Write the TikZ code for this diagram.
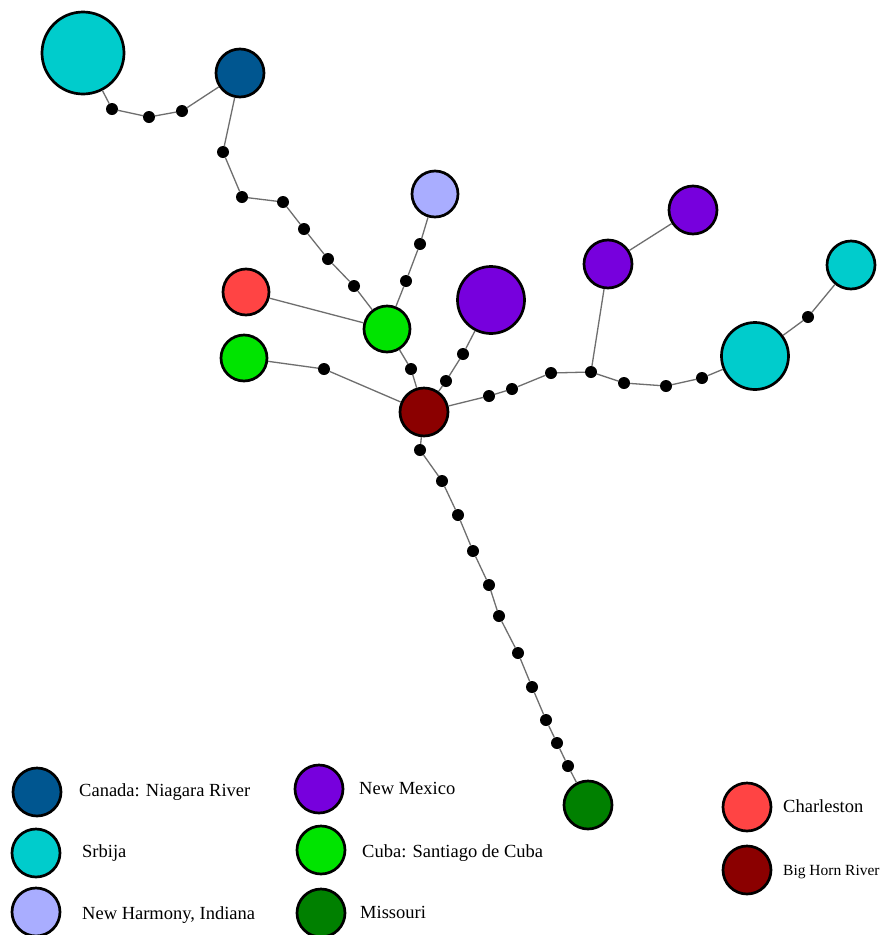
\documentclass[tikz,border=0pt]{standalone}
\usepackage{fontspec}
\setmainfont{Liberation Serif}
\definecolor{cCyan}{RGB}{0,204,204}
\definecolor{cBlue}{RGB}{0,86,144}
\definecolor{cLav}{RGB}{169,173,255}
\definecolor{cRed}{RGB}{255,68,68}
\definecolor{cGreen}{RGB}{0,228,0}
\definecolor{cDRed}{RGB}{139,0,0}
\definecolor{cPurple}{RGB}{119,0,221}
\definecolor{cDGreen}{RGB}{0,128,0}
\definecolor{cEdge}{RGB}{110,110,110}
\tikzset{
  hap/.style={circle, draw=black, line width=2.7pt, inner sep=0pt, minimum size=#1},
  hap/.default=46pt,
  dotn/.style={circle, fill=black, inner sep=0pt, minimum size=12pt},
  edge/.style={draw=cEdge, line width=1.3pt},
  legtext/.style={anchor=west, font=\fontsize{18.5}{20}\selectfont, inner sep=0pt},
  legsmall/.style={anchor=west, font=\fontsize{15.5}{17}\selectfont, inner sep=0pt}
}
\begin{document}
\begin{tikzpicture}[x=1pt,y=-1pt]
\useasboundingbox (0,0) rectangle (882,935);
\fill[white] (0,0) rectangle (882,935);
% haplotype nodes
\node[hap=82pt, fill=cCyan] (sr1) at (83,53) {};
\node[hap=48pt, fill=cBlue] (ca) at (240,73) {};
\node[hap=46pt, fill=cLav] (nh) at (435,194) {};
\node[hap=46pt, fill=cRed] (ch) at (246,292) {};
\node[hap=46pt, fill=cGreen] (cu1) at (387,329) {};
\node[hap=46pt, fill=cGreen] (cu2) at (244,358) {};
\node[hap=48pt, fill=cDRed] (bh) at (424,412) {};
\node[hap=67pt, fill=cPurple] (nm1) at (491,300) {};
\node[hap=48pt, fill=cPurple] (nm2) at (608,264) {};
\node[hap=48pt, fill=cPurple] (nm3) at (693,210) {};
\node[hap=67pt, fill=cCyan] (sr2) at (755,356) {};
\node[hap=48pt, fill=cCyan] (sr3) at (851,265) {};
\node[hap=48pt, fill=cDGreen] (mo) at (588,805) {};
% median / missing dots
\node[dotn] (a1) at (112,109) {};
\node[dotn] (a2) at (149,117) {};
\node[dotn] (a3) at (182,111) {};
\node[dotn] (b1) at (223,152) {};
\node[dotn] (b2) at (242,197) {};
\node[dotn] (b3) at (283,202) {};
\node[dotn] (b4) at (304,229) {};
\node[dotn] (b5) at (328,259) {};
\node[dotn] (b6) at (354,286) {};
\node[dotn] (c1) at (420,244) {};
\node[dotn] (c2) at (406,281) {};
\node[dotn] (d1) at (411,369) {};
\node[dotn] (e1) at (324,369) {};
\node[dotn] (f1) at (463,354) {};
\node[dotn] (f2) at (446,381) {};
\node[dotn] (g1) at (489,396) {};
\node[dotn] (g2) at (512,389) {};
\node[dotn] (g3) at (551,373) {};
\node[dotn] (g4) at (591,372) {};
\node[dotn] (g5) at (624,383) {};
\node[dotn] (g6) at (666,386) {};
\node[dotn] (g7) at (702,378) {};
\node[dotn] (h1) at (808,317) {};
\node[dotn] (m1) at (420,450) {};
\node[dotn] (m2) at (442,481) {};
\node[dotn] (m3) at (458,515) {};
\node[dotn] (m4) at (473,551) {};
\node[dotn] (m5) at (489,585) {};
\node[dotn] (m6) at (499,616) {};
\node[dotn] (m7) at (518,653) {};
\node[dotn] (m8) at (532,687) {};
\node[dotn] (m9) at (546,720) {};
\node[dotn] (m10) at (557,743) {};
\node[dotn] (m11) at (568,766) {};
% edges
\draw[edge] (sr1) -- (a1) -- (a2) -- (a3) -- (ca);
\draw[edge] (ca) -- (b1) -- (b2) -- (b3) -- (b4) -- (b5) -- (b6) -- (cu1);
\draw[edge] (nh) -- (c1) -- (c2) -- (cu1);
\draw[edge] (ch) -- (cu1);
\draw[edge] (cu1) -- (d1) -- (bh);
\draw[edge] (cu2) -- (e1) -- (bh);
\draw[edge] (nm1) -- (f1) -- (f2) -- (bh);
\draw[edge] (bh) -- (g1) -- (g2) -- (g3) -- (g4) -- (g5) -- (g6) -- (g7) -- (sr2) -- (h1) -- (sr3);
\draw[edge] (g4) -- (nm2) -- (nm3);
\draw[edge] (bh) -- (m1) -- (m2) -- (m3) -- (m4) -- (m5) -- (m6) -- (m7) -- (m8) -- (m9) -- (m10) -- (m11) -- (mo);
% legend
\node[hap=48pt, fill=cBlue] (l1) at (37,792) {};
\node[legtext] (t1) at (79,792) {Canada: Niagara River};
\node[hap=48pt, fill=cCyan] (l2) at (36,853) {};
\node[legtext] (t2) at (82,853) {Srbija};
\node[hap=48pt, fill=cLav] (l3) at (36,912) {};
\node[legtext] (t3) at (82,915) {New Harmony, Indiana};
\node[hap=48pt, fill=cPurple] (l4) at (319,789) {};
\node[legtext] (t4) at (359,788) {New Mexico};
\node[hap=48pt, fill=cGreen] (l5) at (321,850) {};
\node[legtext] (t5) at (362,853) {Cuba: Santiago de Cuba};
\node[hap=48pt, fill=cDGreen] (l6) at (321,913) {};
\node[legtext] (t6) at (360,912) {Missouri};
\node[hap=48pt, fill=cRed] (l7) at (747,807) {};
\node[legtext] (t7) at (783,806) {Charleston};
\node[hap=48pt, fill=cDRed] (l8) at (747,870) {};
\node[legsmall] (t8) at (783,872) {Big Horn River};
\end{tikzpicture}
\end{document}
